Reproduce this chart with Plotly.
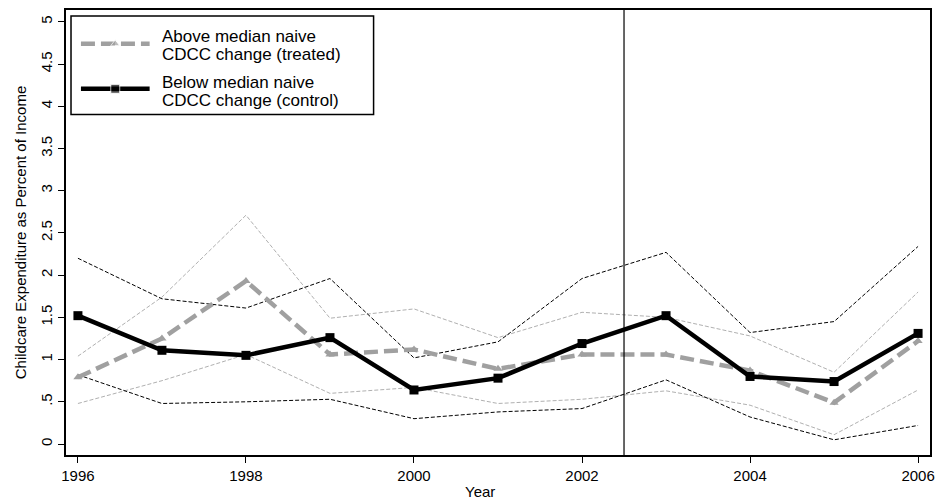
import plotly.graph_objects as go

years = list(range(1996, 2007))

treated = [0.79, 1.25, 1.93, 1.06, 1.12, 0.89, 1.06, 1.06, 0.87, 0.49, 1.22]
treated_hi = [1.04, 1.74, 2.71, 1.49, 1.60, 1.26, 1.56, 1.50, 1.28, 0.85, 1.80]
treated_lo = [0.48, 0.75, 1.06, 0.60, 0.67, 0.48, 0.53, 0.63, 0.46, 0.11, 0.64]

control = [1.52, 1.11, 1.05, 1.26, 0.64, 0.78, 1.19, 1.52, 0.80, 0.74, 1.31]
control_hi = [2.20, 1.72, 1.61, 1.96, 1.02, 1.21, 1.96, 2.27, 1.32, 1.45, 2.34]
control_lo = [0.82, 0.48, 0.50, 0.53, 0.30, 0.38, 0.42, 0.76, 0.32, 0.05, 0.22]

policy_year = 2002.5
y_ticks = [0, 0.5, 1, 1.5, 2, 2.5, 3, 3.5, 4, 4.5, 5]
y_tick_labels = ["0", ".5", "1", "1.5", "2", "2.5", "3", "3.5", "4", "4.5", "5"]
x_ticks = [1996, 1998, 2000, 2002, 2004, 2006]

legend_lines = [["Above median naive", "CDCC change (treated)"],
                ["Below median naive", "CDCC change (control)"]]

GRAY = "#a0a0a0"
LGRAY = "#b0b0b0"
FONT = "Liberation Sans, Arial, sans-serif"

fig = go.Figure()

# confidence bands (thin dashed)
for ys in (treated_hi, treated_lo):
    fig.add_trace(go.Scatter(x=years, y=ys, mode="lines", showlegend=False,
                             line=dict(color=LGRAY, width=1, dash="4px,2px"),
                             hoverinfo="skip"))
for ys in (control_hi, control_lo):
    fig.add_trace(go.Scatter(x=years, y=ys, mode="lines", showlegend=False,
                             line=dict(color="black", width=1, dash="4px,2px"),
                             hoverinfo="skip"))

fig.add_trace(go.Scatter(
    x=years, y=treated, mode="lines+markers", showlegend=False,
    name=" ".join(legend_lines[0]),
    line=dict(color=GRAY, width=4.5, dash="14px,6px"),
    marker=dict(symbol="triangle-up", size=8, color=GRAY),
))
fig.add_trace(go.Scatter(
    x=years, y=control, mode="lines+markers", showlegend=False,
    name=" ".join(legend_lines[1]),
    line=dict(color="black", width=4.5),
    marker=dict(symbol="square", size=9, color="black"),
))

fig.add_shape(type="line", x0=policy_year, x1=policy_year, xref="x",
              y0=0, y1=1, yref="paper", line=dict(color="black", width=1.2))

# custom legend (box, sample lines, labels) in paper coordinates
fig.add_shape(type="rect", xref="paper", yref="paper",
              x0=0.0058, x1=0.356, y0=0.765, y1=0.9866,
              line=dict(color="black", width=1.5), fillcolor="white", layer="below")
leg_y = [0.924, 0.823]
leg_text_y = [[0.9396, 0.8993], [0.8367, 0.7964]]
leg_styles = [dict(color=GRAY, width=4.5, dash="14px,6px"),
              dict(color="black", width=4.5)]
leg_marks = [dict(symbol="triangle-up", size=8, color=GRAY),
             dict(symbol="square", size=9, color="black")]
for yy, st, lines, tys in zip(leg_y, leg_styles, legend_lines, leg_text_y):
    fig.add_shape(type="line", xref="paper", yref="paper",
                  x0=0.0173, x1=0.0968, y0=yy, y1=yy, line=st, layer="below")
    for txt, ty in zip(lines, tys):
        fig.add_annotation(xref="paper", yref="paper", x=0.109, y=ty,
                           text=txt, showarrow=False, xanchor="left",
                           yanchor="middle", align="left",
                           font=dict(family=FONT, size=17, color="black"))
fig.add_trace(go.Scatter(x=[0.057, 0.057], y=leg_y, xaxis="x2", yaxis="y2",
                         mode="markers", showlegend=False, hoverinfo="skip",
                         marker=dict(symbol=[m["symbol"] for m in leg_marks],
                                     size=[m["size"] for m in leg_marks],
                                     color=[m["color"] for m in leg_marks])))

fig.add_annotation(xref="paper", yref="paper", x=0.479, y=-0.083,
                   text="Year", showarrow=False, xanchor="center",
                   yanchor="middle", font=dict(family=FONT, size=15, color="black"))

fig.update_layout(
    width=943, height=501,
    margin=dict(l=66, r=9, t=8, b=46),
    paper_bgcolor="white", plot_bgcolor="white",
    font=dict(family=FONT, size=15, color="black"),
    showlegend=False,
    xaxis=dict(
        range=[1995.858, 2006.142], tickvals=x_ticks,
        ticks="outside", ticklen=6, tickwidth=1, tickcolor="black",
        showline=True, linecolor="black", linewidth=1.5, mirror=True,
        showgrid=False, zeroline=False,
    ),
    yaxis=dict(
        range=[-0.13, 5.14], tickvals=y_ticks, ticktext=y_tick_labels,
        tickangle=-90,
        ticks="outside", ticklen=6, tickwidth=1, tickcolor="black",
        showline=True, linecolor="black", linewidth=1.5, mirror=True,
        showgrid=False, zeroline=False,
        title=dict(text="Childcare Expenditure as Percent of Income",
                   font=dict(size=15), standoff=8),
    ),
    xaxis2=dict(range=[0, 1], overlaying="x", visible=False),
    yaxis2=dict(range=[0, 1], overlaying="y", visible=False),
)

fig.write_html("out.html")
